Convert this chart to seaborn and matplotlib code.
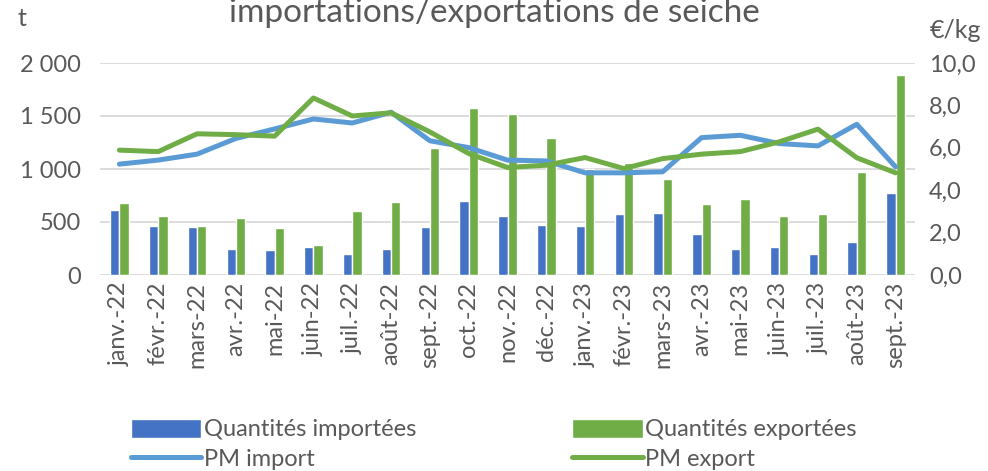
import pandas as pd
import seaborn as sns
import matplotlib.pyplot as plt
import matplotlib.ticker as mticker
import numpy as np

months = ['janv.-22', 'févr.-22', 'mars-22', 'avr.-22', 'mai-22', 'juin-22',
          'juil.-22', 'août-22', 'sept.-22', 'oct.-22', 'nov.-22', 'déc.-22',
          'janv.-23', 'févr.-23', 'mars-23', 'avr.-23', 'mai-23', 'juin-23',
          'juil.-23', 'août-23', 'sept.-23']

# quantités (t)
qte_import = [609, 458, 452, 245, 232, 261, 198, 242, 455, 697, 556, 471,
              458, 571, 581, 389, 245, 264, 201, 311, 769]
qte_export = [678, 556, 465, 537, 443, 279, 603, 684, 1199, 1576, 1520, 1290,
              998, 1061, 907, 669, 716, 556, 575, 973, 1890]

# prix moyens (€/kg)
pm_import = [5.23, 5.42, 5.70, 6.44, 6.89, 7.36, 7.17, 7.68, 6.33, 6.01, 5.42, 5.38,
             4.82, 4.82, 4.87, 6.48, 6.59, 6.20, 6.09, 7.11, 5.10]
pm_export = [5.89, 5.82, 6.66, 6.62, 6.55, 8.35, 7.50, 7.65, 6.75, 5.73, 5.07, 5.18,
             5.54, 5.02, 5.49, 5.70, 5.82, 6.28, 6.88, 5.53, 4.82]

sns.set_style('white')
plt.rcParams['font.family'] = ['Lato', 'DejaVu Sans']
gris = '#595959'

df = pd.DataFrame({'mois': months * 2,
                   'qte': qte_import + qte_export,
                   'serie': ['Quantités importées'] * len(months) + ['Quantités exportées'] * len(months)})

fig = plt.figure(figsize=(9.88, 4.71), dpi=100)
ax = fig.add_axes([100 / 988, 1 - 275 / 471, 815 / 988, 212 / 471])

sns.barplot(data=df, x='mois', y='qte', hue='serie', order=months,
            palette=['#4472C4', '#70AD47'], width=0.48, saturation=1,
            ax=ax, legend=True)
ax.set_ylim(0, 2000)
ax.set_yticks([0, 500, 1000, 1500, 2000])
ax.yaxis.set_major_formatter(mticker.FuncFormatter(lambda v, p: f'{int(v):,}'.replace(',', ' ')))
ax.set_xlim(-0.5, len(months) - 0.5)
ax.grid(axis='y', color='#D9D9D9', lw=1.3)
ax.set_axisbelow(True)
ax.set_xlabel('')
ax.set_ylabel('')
for s in ax.spines.values():
    s.set_visible(False)
ax.tick_params(axis='both', length=0, labelsize=17, labelcolor=gris)
ax.tick_params(axis='x', rotation=90, pad=5)
ax.tick_params(axis='y', pad=14)

ax2 = ax.twinx()
sns.lineplot(x=np.arange(len(months)), y=pm_import, color='#5B9BD5', lw=3.6,
             label='PM import', ax=ax2, legend=False)
sns.lineplot(x=np.arange(len(months)), y=pm_export, color='#70AD47', lw=3.6,
             label='PM export', ax=ax2, legend=False)
ax2.set_ylim(0, 10)
ax2.set_yticks([0, 2, 4, 6, 8, 10])
ax2.yaxis.set_major_formatter(mticker.FuncFormatter(lambda v, p: f'{v:.1f}'.replace('.', ',')))
for s in ax2.spines.values():
    s.set_visible(False)
ax2.tick_params(axis='y', length=0, labelsize=17, labelcolor=gris, pad=10)
ax2.set_xlim(-0.5, len(months) - 0.5)

h1, l1 = ax.get_legend_handles_labels()
ax.get_legend().remove()
h2, l2 = ax2.get_legend_handles_labels()
handles = [h1[0], h2[0], h1[1], h2[1]]
labels = [l1[0], l2[0], l1[1], l2[1]]
fig.legend(handles, labels, ncol=2, loc='upper left', bbox_to_anchor=(114 / 988, 1 - 402 / 471),
           frameon=False, fontsize=17, handlelength=3.0, handleheight=0.9, handletextpad=0.1,
           columnspacing=6.6, labelspacing=0.3, labelcolor=gris, borderpad=0.2)

fig.text(0.5, 0.972, 'importations/exportations de seiche', ha='center', va='center',
         fontsize=24, color=gris)
fig.text(22 / 988, 1 - 18 / 471, 't', ha='center', va='center', fontsize=18, color=gris)
fig.text(955 / 988, 1 - 30 / 471, '€/kg', ha='center', va='center', fontsize=18, color=gris)

fig.savefig('out.png', dpi=100)
